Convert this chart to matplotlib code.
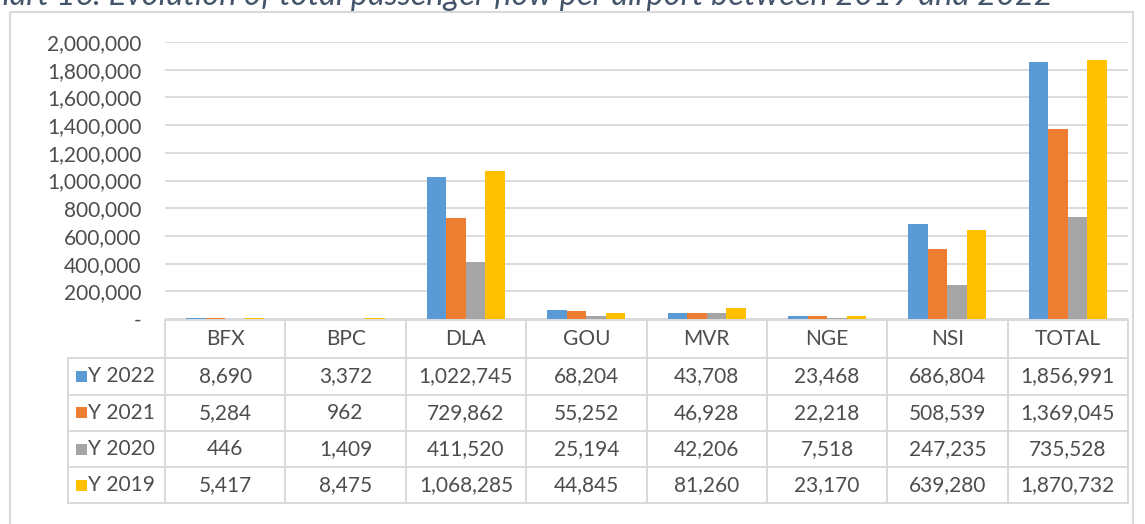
import matplotlib
matplotlib.use('Agg')
import matplotlib.pyplot as plt
from matplotlib.patches import Rectangle
from matplotlib.ticker import FuncFormatter, MultipleLocator
import numpy as np

airports = ['BFX', 'BPC', 'DLA', 'GOU', 'MVR', 'NGE', 'NSI', 'TOTAL']
series_labels = ['Y 2022', 'Y 2021', 'Y 2020', 'Y 2019']
y2022 = [8690, 3372, 1022745, 68204, 43708, 23468, 686804, 1856991]
y2021 = [5284, 962, 729862, 55252, 46928, 22218, 508539, 1369045]
y2020 = [446, 1409, 411520, 25194, 42206, 7518, 247235, 735528]
y2019 = [5417, 8475, 1068285, 44845, 81260, 23170, 639280, 1870732]
colors = ['#5B9BD5', '#ED7D31', '#A5A5A5', '#FFC000']
title = 'Chart 16: Evolution of total passenger flow per airport between 2019 and 2022'

plt.rcParams['font.family'] = ['Lato', 'DejaVu Sans']
W, H = 1145, 524
fig = plt.figure(figsize=(W / 100, H / 100), dpi=100)

txt_col = '#4d4d4d'
line_col = '#d9d9d9'
fs = 15

x0, x1 = 165, 1128
y_top, y_zero = 42, 319
ax = fig.add_axes([x0 / W, 1 - y_zero / H, (x1 - x0) / W, (y_zero - y_top) / H])
n = len(airports)
ax.set_xlim(0, n)
ax.set_ylim(0, 2_000_000)
xc = np.arange(n) + 0.5
bw = 0.162
for i, (vals, c) in enumerate(zip([y2022, y2021, y2020, y2019], colors)):
    ax.bar(xc + (i - 1.5) * bw, vals, width=bw, color=c, zorder=3)
ax.yaxis.set_major_locator(MultipleLocator(200000))
ax.yaxis.set_major_formatter(FuncFormatter(lambda v, p: '-' if abs(v) < 1 else f'{v:,.0f}'))
ax.grid(axis='y', color=line_col, lw=1.3, zorder=0)
for s in ax.spines.values():
    s.set_visible(False)
ax.set_xticks([])
ax.tick_params(axis='y', length=0, pad=17, labelsize=fs, labelcolor=txt_col)
ax.patch.set_alpha(0)

ov = fig.add_axes([0, 0, 1, 1])
ov.set_xlim(0, W)
ov.set_ylim(H, 0)
ov.axis('off')
ov.patch.set_alpha(0)

# outer chart frame
ov.add_patch(Rectangle((10, 12), 1123, 560, fill=False, edgecolor=line_col, lw=1.5))

# table
bounds = x0 + (x1 - x0) * np.arange(n + 1) / n
row_edges = [320, 358, 394.5, 431, 467, 503]
lab_left = 68
lw = 1.4
ov.plot([x0, x1], [row_edges[0]] * 2, color=line_col, lw=lw)
for ye in row_edges[1:]:
    ov.plot([lab_left, x1], [ye, ye], color=line_col, lw=lw)
for xb in bounds:
    ov.plot([xb, xb], [row_edges[0], row_edges[-1]], color=line_col, lw=lw)
ov.plot([lab_left, lab_left], [row_edges[1], row_edges[-1]], color=line_col, lw=lw)

hy = (row_edges[0] + row_edges[1]) / 2
for k, a in enumerate(airports):
    ov.text((bounds[k] + bounds[k + 1]) / 2, hy, a, ha='center', va='center',
            fontsize=fs, color=txt_col)

for r, (lab, vals, c) in enumerate(zip(series_labels, [y2022, y2021, y2020, y2019], colors)):
    yc = (row_edges[r + 1] + row_edges[r + 2]) / 2
    ov.add_patch(Rectangle((76, yc - 5.5), 11, 11, color=c, lw=0))
    ov.text(88, yc, lab, ha='left', va='center', fontsize=fs, color=txt_col)
    for k, v in enumerate(vals):
        ov.text((bounds[k] + bounds[k + 1]) / 2, yc, f'{v:,}', ha='center', va='center',
                fontsize=fs, color=txt_col)

ov.text(1053, 5, title, ha='right', va='baseline', fontsize=23.5, style='italic',
        color='#44546A')

fig.savefig('out.png', dpi=100)
